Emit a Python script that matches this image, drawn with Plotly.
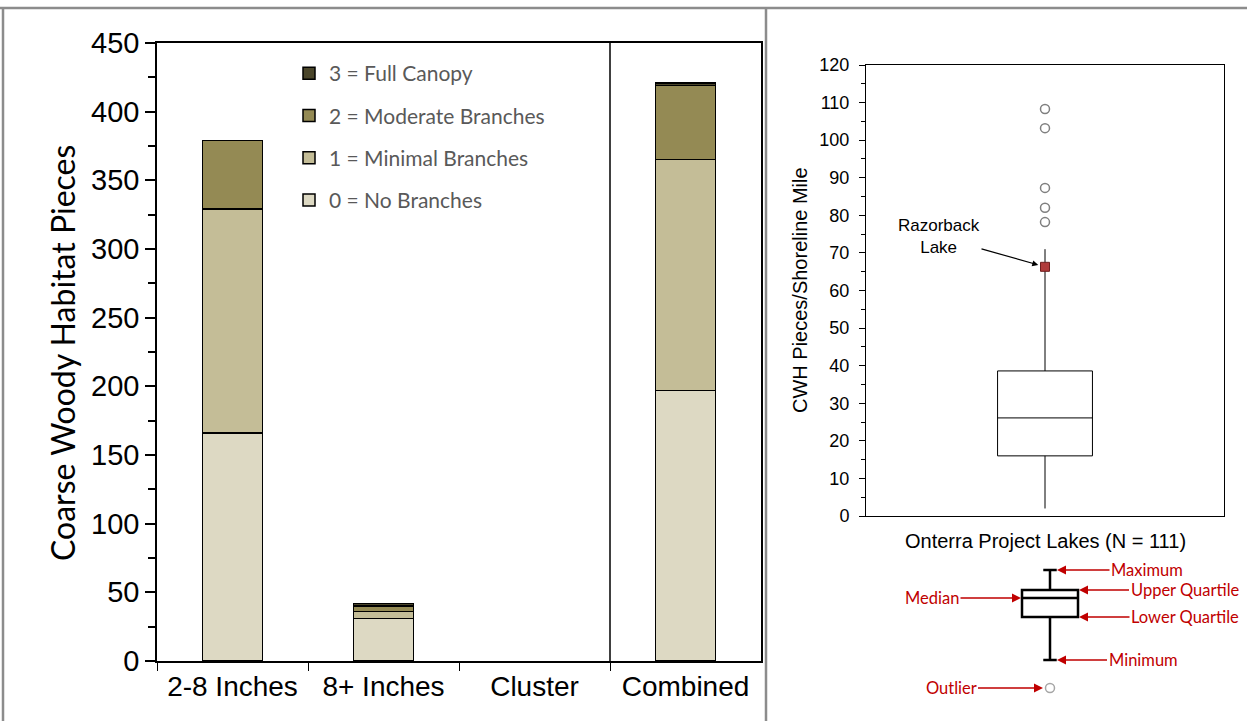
import plotly.graph_objects as go

W, H = 1247, 721

# ---------------- data ----------------
categories = ["2-8 Inches", "8+ Inches", "Cluster", "Combined"]
branch_levels = ["0 = No Branches", "1 = Minimal Branches", "2 = Moderate Branches", "3 = Full Canopy"]
no_branches = [166, 31, 0, 197]
minimal_branches = [163, 5, 0, 168]
moderate_branches = [50, 4, 0, 54]
full_canopy = [0, 2, 0, 2]
series_values = [no_branches, minimal_branches, moderate_branches, full_canopy]
series_colors = ["#DDD9C3", "#C4BD97", "#948A54", "#4A452A"]

# box plot of CWH pieces / shoreline mile across project lakes
box_label = "Onterra Project Lakes (N = 111)"
y2_title = "CWH Pieces/Shoreline Mile"
box_q1 = [16.0]
box_median = [26.1]
box_q3 = [38.6]
box_lower = [2.0]
box_upper = [71.0]
outliers = [108.3, 103.2, 87.3, 82.0, 78.2]
razorback_value = [66.3]

# key diagram (illustrative box)
key_q1 = [83]
key_median = [102]
key_q3 = [110]
key_lower = [40]
key_upper = [130]
key_outlier = [12]


def px_x(p):
    return p / W


def px_y(p):
    return (H - p) / H


fig = go.Figure()

# ---------------- left stacked bar chart ----------------
n = len(branch_levels)
for i, (name, vals, col) in enumerate(zip(branch_levels, series_values, series_colors)):
    fig.add_trace(go.Bar(
        x=categories, y=[v if v else None for v in vals], name=name, width=0.4,
        marker=dict(color=col, line=dict(color="black", width=1.5)),
        xaxis="x", yaxis="y", legendgroup=name, legendrank=10 * (n - i),
    ))

# ---------------- right box plot ----------------
fig.add_trace(go.Box(
    x=[0], q1=box_q1, median=box_median, q3=box_q3,
    lowerfence=box_lower, upperfence=box_upper,
    width=0.265, whiskerwidth=0, fillcolor="white",
    line=dict(color="black", width=1), xaxis="x2", yaxis="y2",
    showlegend=False, hoverinfo="skip",
))
fig.add_trace(go.Scatter(
    x=[0] * len(outliers), y=outliers, mode="markers",
    marker=dict(symbol="circle-open", size=9, color="#7F7F7F", line=dict(width=1.5)),
    xaxis="x2", yaxis="y2", showlegend=False,
))
fig.add_trace(go.Scatter(
    x=[0], y=razorback_value, mode="markers",
    marker=dict(symbol="square", size=9, color="#B03A3A", line=dict(color="#6E1E1E", width=1)),
    xaxis="x2", yaxis="y2", showlegend=False,
))

# ---------------- key diagram ----------------
fig.add_trace(go.Box(
    x=[50], q1=key_q1, median=key_median, q3=key_q3,
    lowerfence=key_lower, upperfence=key_upper,
    width=56, whiskerwidth=0.24, fillcolor="white",
    line=dict(color="black", width=2.5), xaxis="x3", yaxis="y3",
    showlegend=False, hoverinfo="skip",
))
fig.add_trace(go.Scatter(
    x=[50], y=key_outlier, mode="markers",
    marker=dict(symbol="circle-open", size=9, color="#A6A6A6", line=dict(width=1.5)),
    xaxis="x3", yaxis="y3", showlegend=False,
))

calibri = "Lato, Carlito, Calibri, sans-serif"
arial = "Liberation Sans, Arial, sans-serif"

fig.update_layout(
    width=W, height=H, margin=dict(l=0, r=0, t=0, b=0, autoexpand=False),
    paper_bgcolor="white", plot_bgcolor="white",
    barmode="stack", showlegend=True,
    legend=dict(
        x=px_x(289), y=px_y(53), xanchor="left", yanchor="top",
        traceorder="grouped", tracegroupgap=12,
        font=dict(family=calibri, size=21, color="#595959"),
        bgcolor="rgba(0,0,0,0)",
    ),
    xaxis=dict(
        domain=[px_x(157), px_x(761)], anchor="y", automargin=False,
        showline=True, linecolor="black", linewidth=1.5, mirror=True,
        ticks="outside", tickson="boundaries", ticklen=8, tickcolor="black",
        tickfont=dict(family=arial, size=28, color="black"),
        showgrid=False,
    ),
    yaxis=dict(
        domain=[px_y(661), px_y(43)], anchor="x", range=[0, 450], automargin=False,
        dtick=50, showline=True, linecolor="black", linewidth=1.5, mirror=True,
        ticks="outside", ticklen=10, tickcolor="black", tickwidth=1.5,
        minor=dict(dtick=25, ticks="outside", ticklen=7, tickcolor="black", tickwidth=1.5),
        tickfont=dict(family=arial, size=29, color="black"),
        showgrid=False, zeroline=False,
    ),
    xaxis2=dict(
        domain=[px_x(866), px_x(1224)], anchor="y2", range=[-0.5, 0.5], automargin=False,
        showline=True, linecolor="black", linewidth=1, mirror=True,
        showticklabels=False, ticks="", showgrid=False, zeroline=False,
    ),
    yaxis2=dict(
        domain=[px_y(516), px_y(65)], anchor="x2", range=[0, 120], automargin=False,
        dtick=10, showline=True, linecolor="black", linewidth=1, mirror=True,
        ticks="outside", ticklen=6, tickcolor="black", ticklabelstandoff=6,
        minor=dict(dtick=5, ticks="outside", ticklen=4, tickcolor="black"),
        tickfont=dict(family=arial, size=18, color="black"),
        showgrid=False, zeroline=False,
    ),
    xaxis3=dict(domain=[px_x(1000), px_x(1100)], anchor="y3", range=[0, 100],
                visible=False, fixedrange=True, automargin=False),
    yaxis3=dict(domain=[px_y(700), px_y(560)], anchor="x3", range=[0, 140],
                visible=False, fixedrange=True, automargin=False),
)

# axis titles
fig.add_annotation(x=px_x(62), y=px_y(353), xref="paper", yref="paper",
                   text="Coarse Woody Habitat Pieces", textangle=-90, showarrow=False,
                   xanchor="center", yanchor="middle",
                   font=dict(family=calibri, size=32, color="black"))
fig.add_annotation(x=px_x(800), y=px_y(290), xref="paper", yref="paper",
                   text=y2_title, textangle=-90, showarrow=False,
                   xanchor="center", yanchor="middle",
                   font=dict(family=arial, size=20, color="black"))
fig.add_annotation(x=px_x(1045), y=px_y(541), xref="paper", yref="paper",
                   text=box_label, showarrow=False, xanchor="center", yanchor="middle",
                   font=dict(family=arial, size=20, color="black"))

# divider between Cluster and Combined
fig.add_shape(type="line", xref="x", yref="y domain", x0=2.5, x1=2.5, y0=0, y1=1,
              line=dict(color="black", width=1.5))

# outer frame
frame = dict(color="#8C8C8C", width=2.5)
fig.add_shape(type="line", xref="paper", yref="paper", x0=0, x1=1, y0=px_y(8), y1=px_y(8), line=frame)
fig.add_shape(type="line", xref="paper", yref="paper", x0=px_x(3), x1=px_x(3), y0=0, y1=px_y(8), line=frame)
fig.add_shape(type="line", xref="paper", yref="paper", x0=px_x(766), x1=px_x(766), y0=0, y1=px_y(8), line=frame)

# Razorback Lake callout
fig.add_annotation(x=0, y=razorback_value[0], xref="x2", yref="y2",
                   text="Razorback<br>Lake", showarrow=True, arrowhead=2, arrowsize=1,
                   arrowwidth=1.2, arrowcolor="black", standoff=7,
                   ax=-106, ay=-30, font=dict(family=arial, size=17, color="black"))

# key labels
red = "#C00000"
key_labels = [
    ("Maximum", 50 + 7, key_upper[0], 90, 0),
    ("Upper Quartile", 50 + 29, key_q3[0], 106, 0),
    ("Lower Quartile", 50 + 29, key_q1[0], 106, 0),
    ("Minimum", 50 + 7, key_lower[0], 86, 0),
    ("Median", 50 - 29, key_median[0], -89, 0),
    ("Outlier", 50 - 7, key_outlier[0], -92, 0),
]
for txt, xx, yy, ax, ay in key_labels:
    fig.add_annotation(x=xx, y=yy, xref="x3", yref="y3", text=txt, showarrow=True,
                       arrowhead=2, arrowsize=1.2, arrowwidth=1.5, arrowcolor=red,
                       ax=ax, ay=ay, font=dict(family=calibri, size=16.5, color=red))

fig.write_html("out.html", config={"displayModeBar": False},
               post_script="document.body.style.margin='0';")
